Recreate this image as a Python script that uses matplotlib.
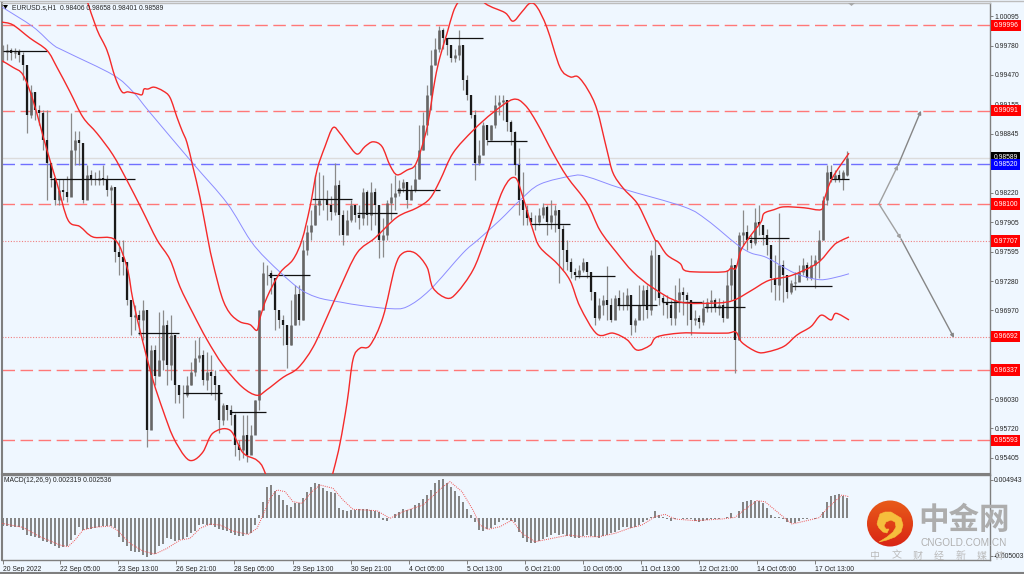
import numpy as np
import matplotlib
matplotlib.use("Agg")
import matplotlib.pyplot as plt
from matplotlib.patches import Circle, Polygon, PathPatch
from matplotlib.path import Path

plt.rcParams['font.family'] = ['Liberation Sans', 'DejaVu Sans']

# ---- candle data (1 unit = 0.0001 of price)
close_pips = [9971,9973,9970,9971,9968,9957,9904,9929,9910,9907,9878,9853,9838,9814,9825,9823,9817,9867,9878,9875,
 9814,9841,9835,9835,9838,9837,9825,9828,9759,9754,9748,9708,9690,9692,9687,9698,9570,9655,9628,9645,
 9682,9639,9671,9618,9607,9607,9618,9632,9647,9650,9623,9632,9628,9618,9581,9597,9591,9586,9554,9549,
 9565,9544,9565,9602,9698,9737,9737,9732,9698,9687,9682,9660,9682,9715,9687,9761,9780,9788,9809,9814,
 9814,9809,9801,9830,9798,9777,9793,9809,9798,9795,9823,9798,9823,9809,9772,9777,9811,9817,9822,9827,
 9833,9814,9825,9837,9867,9894,9926,9957,9975,9995,9986,9979,9965,9968,9979,9942,9926,9904,9853,9862,
 9894,9878,9894,9915,9918,9920,9897,9886,9851,9814,9804,9795,9791,9791,9798,9807,9791,9798,9804,9784,
 9761,9748,9738,9735,9740,9748,9738,9717,9689,9703,9708,9703,9687,9710,9703,9703,9713,9682,9687,9703,
 9719,9698,9756,9756,9710,9706,9703,9689,9708,9717,9713,9708,9687,9689,9685,9700,9706,9708,9700,9703,
 9689,9724,9745,9666,9777,9780,9772,9769,9791,9788,9777,9766,9732,9724,9745,9735,9717,9726,9727,9738,
 9745,9731,9745,9751,9772,9814,9844,9837,9841,9837,9844,9859]
high_pips = [9979,9980,9976,9976,9975,9971,9952,9936,9929,9915,9910,9910,9853,9838,9837,9837,9840,9907,9888,9888,
 9875,9851,9846,9844,9846,9851,9841,9830,9809,9772,9772,9748,9708,9703,9698,9708,9698,9660,9660,9695,
 9698,9687,9692,9671,9618,9618,9628,9642,9666,9669,9655,9653,9650,9634,9618,9599,9597,9597,9588,9560,
 9586,9586,9575,9602,9698,9748,9745,9740,9724,9692,9692,9682,9708,9724,9724,9772,9788,9804,9841,9844,
 9841,9825,9819,9853,9835,9804,9804,9814,9809,9809,9827,9825,9833,9827,9809,9795,9814,9832,9841,9835,
 9837,9833,9830,9851,9894,9908,9936,9973,9986,9999,9997,9986,9979,9975,9995,9979,9947,9926,9910,9878,
 9897,9894,9894,9926,9926,9926,9920,9899,9888,9869,9844,9809,9801,9798,9806,9811,9809,9814,9809,9804,
 9788,9772,9753,9742,9745,9753,9748,9738,9717,9710,9713,9744,9710,9713,9719,9717,9721,9713,9689,9724,
 9724,9724,9761,9772,9756,9713,9713,9708,9724,9732,9722,9717,9708,9698,9692,9708,9710,9719,9710,9710,
 9708,9740,9753,9745,9780,9804,9788,9777,9806,9809,9788,9784,9766,9756,9800,9751,9735,9729,9738,9745,
 9753,9748,9756,9756,9782,9819,9851,9851,9846,9846,9846,9866]
low_pips = [9961,9963,9963,9965,9961,9942,9885,9901,9899,9894,9867,9814,9828,9809,9809,9814,9812,9819,9851,9851,
 9811,9825,9830,9830,9830,9830,9819,9811,9748,9735,9735,9703,9671,9676,9671,9666,9552,9623,9618,9628,
 9634,9618,9623,9599,9599,9583,9605,9618,9628,9642,9618,9613,9607,9602,9567,9575,9581,9575,9543,9538,
 9541,9536,9549,9570,9591,9698,9724,9714,9676,9678,9660,9636,9660,9682,9682,9687,9756,9772,9788,9798,
 9804,9793,9793,9798,9777,9766,9780,9791,9791,9784,9788,9788,9782,9788,9753,9754,9772,9793,9804,9819,
 9823,9806,9819,9823,9837,9867,9883,9910,9957,9971,9975,9968,9961,9961,9963,9931,9920,9901,9835,9851,
 9862,9873,9878,9891,9904,9899,9888,9873,9841,9798,9788,9788,9788,9782,9788,9795,9777,9784,9780,9726,
 9740,9740,9731,9729,9731,9738,9731,9708,9682,9687,9692,9687,9685,9695,9698,9698,9698,9671,9674,9689,
 9687,9689,9692,9708,9703,9692,9689,9682,9682,9695,9692,9682,9671,9682,9678,9682,9695,9695,9695,9692,
 9685,9689,9708,9631,9666,9766,9761,9763,9766,9777,9766,9756,9717,9708,9708,9706,9710,9714,9719,9729,
 9735,9729,9729,9721,9731,9772,9809,9833,9833,9833,9825,9840]
open_last_pips = 9840.6

# ---- band data: chart column, price in 0.0001 units
upper_col = [87,97,107,115,122,128,137,142,144,148,154,163,170,177,182,187,193,200,208,213,222,230,240,250,257,260,267,280,293,302,
 310,317,325,333,340,347,357,365,373,382,390,397,407,415,422,428,435,440,447,453,458,470,485,505,513,522,530,537,547,560,
 570,578,588,597,607,613,623,637,647,655,658,667,680,684,694,724,731,736,741,751,761,764,774,784,804,821,824,832,849]
upper_pips = [10026,9995,9973,9945,9929,9929,9927,9926,9932,9932,9934,9930,9923,9902,9888,9875,9849,9817,9772,9747,9711,9694,9685,9682,9676,9689,9711,9737,9751,9772,
 9807,9846,9871,9891,9885,9875,9863,9871,9876,9871,9851,9841,9846,9851,9871,9896,9942,9966,9991,10013,10024,10042,10023,10013,10004,10014,10023,10019,9997,9955,
 9945,9945,9931,9910,9867,9843,9827,9811,9790,9772,9770,9756,9747,9740,9738,9738,9742,9742,9761,9777,9791,9800,9804,9807,9806,9804,9814,9837,9864]
middle_col = [2,13,30,47,57,70,83,97,113,127,142,157,170,180,193,207,223,242,257,267,283,298,313,327,340,357,375,397,417,430,
 440,453,473,493,513,525,537,553,567,587,600,617,633,653,680,717,734,751,769,791,817,831,837,849]
middle_pips = [10003,10000,9986,9973,9955,9929,9902,9885,9862,9835,9804,9772,9751,9722,9694,9666,9639,9616,9607,9613,9626,9636,9658,9690,9721,9758,9774,9796,9806,9816,
 9835,9864,9888,9907,9921,9915,9896,9864,9839,9811,9782,9758,9738,9721,9706,9705,9708,9718,9729,9734,9747,9763,9769,9775]
lower_col = [2,13,23,33,47,57,68,80,93,115,127,133,143,153,163,173,185,193,203,213,230,243,257,265,280,300,320,333,340,347,
 353,360,370,383,395,403,415,427,433,447,457,473,485,503,515,523,533,540,557,570,580,597,613,627,637,650,657,680,704,727,
 736,742,757,767,784,797,811,821,831,836,849]
lower_pips = [9962,9955,9947,9920,9867,9832,9793,9786,9775,9772,9743,9708,9663,9623,9591,9563,9542,9538,9547,9567,9570,9546,9538,9525,9475,9432,9475,9525,9556,9599,
 9645,9657,9660,9690,9743,9758,9758,9743,9721,9710,9716,9740,9772,9825,9838,9817,9782,9764,9747,9729,9701,9672,9673,9666,9655,9660,9669,9673,9673,9673,
 9674,9663,9653,9653,9659,9671,9680,9692,9687,9694,9687]
ma_col = [2,33,53,67,113,133,150,193,227,250,267,297,317,340,363,390,407,430,463,478,500,520,540,573,587,623,684,707,737,751,767,794,817,831,849]
ma_pips = [10019,9998,9979,9971,9947,9929,9907,9853,9811,9772,9751,9722,9711,9706,9702,9699,9701,9719,9758,9772,9793,9814,9831,9840,9839,9826,9807,9793,9767,9758,9753,9737,9730,9731,9736]

# ---- period stubs
stub_start = [3,50,138,183,230,268,312,357,397,447,487,530,575,617,662,704,747,792,831]
stub_end = [47,135,179,222,266,310,352,397,440,483,527,570,615,657,702,745,789,832,849]
stub_pips = [9972,9837,9673,9609,9589,9735,9815,9800,9825,9986,9877,9789,9734,9703,9706,9701,9774,9723,9837]

# ---- horizontal levels
dashed_levels = [0.99996,0.99091,0.98100,0.96337,0.95593]
dotted_levels = [0.97707,0.96692]
blue_level = 0.98520
bid_level = 0.98589
price_ticks = [1.00095,0.99780,0.99470,0.99155,0.98845,0.98220,0.97905,0.97595,0.97280,0.96970,0.96030,0.95720,0.95405]

# ---- forecast arrows (column, price)
up_arrow_col = [879,898,921]
up_arrow_price = [0.98100,0.9851,0.9909]
down_arrow_col = [879,901,954]
down_arrow_price = [0.98100,0.9773,0.9668]

# ---- MACD (0.0001 units)
macd_hist = [-10.5,-11.4,-11.8,-12.2,-12.7,-16.2,-22.7,-24.0,-24.9,-27.1,-30.2,-31.9,-34.5,-37.1,-39.3,-38.9,-37.1,-29.3,-22.7,-12.7,
 -16.2,-15.3,-14.4,-14.0,-12.7,-10.9,-10.9,-10.9,-14.0,-24.9,-31.5,-37.1,-43.7,-45.0,-45.4,-48.9,-51.1,-48.9,-47.6,-37.1,
 -34.5,-26.2,-28.0,-30.2,-29.3,-28.4,-24.9,-20.5,-17.0,-9.6,-8.7,-9.6,-9.6,-12.7,-15.3,-16.2,-17.0,-20.5,-22.7,-24.0,
 -24.0,-21.4,-19.7,-9.6,3.5,21.0,40.6,42.4,35.4,29.7,23.2,16.6,14.4,18.8,18.8,25.3,34.1,40.6,45.0,44.1,
 38.5,35.4,34.1,31.9,12.2,10.1,9.2,10.1,10.1,10.9,10.9,10.9,10.1,9.2,7.9,-3.1,-3.9,0.0,4.8,7.9,
 10.9,10.1,10.9,16.6,19.7,24.0,29.7,36.3,45.9,49.4,50.3,45.9,40.6,35.4,28.4,21.0,10.9,3.5,-5.2,-16.2,
 -17.0,-15.3,-14.0,-9.6,-5.2,-3.1,-3.1,-3.9,
 -5.2,-18.4,-27.1,-32.3,-33.6,-33.6,-30.2,-28.4,-25.8,-22.7,-20.5,-23.2,-21.9,-24.0,-25.8,-26.2,-26.2,-23.6,-22.7,-24.0,
 -25.8,-26.2,-24.0,-22.7,-20.5,-18.4,-16.2,-12.7,-11.8,-13.5,-12.7,-9.6,-5.2,-3.1,1.3,8.7,3.5,1.3,-2.2,-3.9,
 -2.2,-0.9,-1.3,-1.3,-2.2,-4.4,-5.2,-3.9,-3.1,-2.2,-1.3,-1.3,-0.9,0.4,5.7,0.0,9.2,21.0,22.3,23.2,
 22.3,22.3,18.8,12.2,3.5,1.3,0.4,-2.2,-5.2,-7.4,-6.6,-4.4,-2.2,-1.3,-0.9,-1.3,0.0,7.9,21.0,28.4,
 30.2,31.0,28.4,26.2]
signal_col = [2,23,40,60,68,75,83,93,110,117,130,143,155,167,180,190,200,210,220,233,248,257,263,270,277,285,293,302,312,320,
 333,343,353,377,390,403,423,443,450,462,473,480,488,500,512,522,535,552,569,582,599,615,629,642,655,665,675,695,722,735,
 745,757,765,779,792,805,819,829,842,849]
signal_vals = [-7.4,-12.7,-24.9,-35.8,-38.0,-29.3,-16.2,-12.7,-10.9,-16.2,-33.6,-43.7,-47.6,-40.2,-29.3,-27.1,-14.0,-8.3,-9.6,-17.5,-21.9,-14.0,3.5,25.3,36.3,34.1,21.0,18.8,34.1,42.8,
 38.5,23.2,10.9,9.2,-0.9,7.9,16.6,40.6,47.2,34.1,10.0,-9.6,-15.3,-11.8,-3.1,-20.5,-31.5,-27.1,-22.7,-24.9,-24.9,-20.5,-14.0,-9.6,1.3,4.4,-1.7,-3.9,-1.7,0.4,
 10.9,22.3,21.0,5.7,-8.3,-4.4,0.0,14.4,29.7,27.5]

time_labels = ['20 Sep 2022','22 Sep 05:00','23 Sep 13:00','26 Sep 21:00','28 Sep 05:00','29 Sep 13:00','30 Sep 21:00',
 '4 Oct 05:00','5 Oct 13:00','6 Oct 21:00','10 Oct 05:00','11 Oct 13:00','12 Oct 21:00','14 Oct 05:00','17 Oct 13:00']
time_tick_cols = [3,60,118,176,234,293,351,409,467,525,583,641,699,757,815]
header_text = 'EURUSD.s,H1  0.98406 0.98658 0.98401 0.98589'
macd_text = 'MACD(12,26,9) 0.002319 0.002536'
watermark_cn = '中金网'
watermark_en = 'CNGOLD.COM.CN'
watermark_sub = '中文财经新媒体'

# ---- layout
W, H = 1024, 574
BG = '#EFF7FF'
FRAME = '#7F7F7F'
TXT = '#262626'
FS = 4.9
fig = plt.figure(figsize=(W/100, H/100), dpi=100, facecolor=BG)
def box(x0, y0, x1, y1):
    return [x0/W, 1-y1/H, (x1-x0)/W, (y1-y0)/H]
ax = fig.add_axes(box(2, 3, 990, 474), facecolor=BG)
ax2 = fig.add_axes(box(2, 475, 990, 560), facecolor=BG)

ax.set_xlim(2, 990)
ax.set_ylim(0.95235, 1.00233)
ax2.set_xlim(2, 990)
ax2.set_ylim(-0.00554, 0.00559)

def to_price(seq):
    return np.asarray(seq, dtype=float) / 1e4

def curve(axes, xs, ys, **kw):
    """Draw the read points as one smooth Bezier path through them."""
    xs = np.asarray(xs, float)
    ys = np.asarray(ys, float)
    px = np.column_stack([xs, ys])
    ext = np.vstack([px[0], px, px[-1]])
    verts = [px[0]]
    codes = [Path.MOVETO]
    for i in range(1, len(ext) - 2):
        p0, p1, p2, p3 = ext[i-1], ext[i], ext[i+1], ext[i+2]
        verts += [p1 + (p2 - p0) / 6, p2 - (p3 - p1) / 6, p2]
        codes += [Path.CURVE4] * 3
    axes.add_patch(PathPatch(Path(verts, codes), fill=False, **kw))

closes = to_price(close_pips)
highs = to_price(high_pips)
lows = to_price(low_pips)
opens = np.r_[closes[0], closes[:-1]]
opens[-1] = open_last_pips / 1e4
bar_x = 3 + 4 * np.arange(len(closes))

# levels
for lv in dashed_levels:
    ax.axhline(lv, color='#FF7878', lw=1.0, dashes=(9, 4), zorder=1)
for lv in dotted_levels:
    ax.axhline(lv, color='#F08080', lw=0.8, dashes=(1, 1.5), zorder=1)
ax.axhline(blue_level, color='#7070FF', lw=1.0, dashes=(9, 4), zorder=1)
ax.axhline(bid_level, color='#DCDCDC', lw=1.0, zorder=1)

# candles
ax.vlines(bar_x, lows, highs, color='#8A8A8A', lw=0.9, zorder=2)
down = closes < opens
ax.vlines(bar_x[~down], opens[~down], closes[~down], color='#666666', lw=1.9, zorder=3)
ax.vlines(bar_x[down], opens[down], closes[down], color='#1A1A1A', lw=1.6, zorder=3)

# stubs
ax.hlines(to_price(stub_pips), stub_start, stub_end, color='#111111', lw=0.9, zorder=4)

# bands
curve(ax, ma_col, to_price(ma_pips), edgecolor='#8C8CFF', lw=0.7, zorder=5)
for c, p in ((upper_col, upper_pips), (middle_col, middle_pips), (lower_col, lower_pips)):
    curve(ax, c, to_price(p), edgecolor='#F52A2A', lw=1.0, zorder=6)

# arrows
def arrow_path(cols, prices, first_col):
    ax.annotate('', xy=(cols[1], prices[1]), xytext=(cols[0], prices[0]),
                arrowprops=dict(arrowstyle='-|>', color=first_col, lw=1.0, mutation_scale=5, shrinkA=0, shrinkB=0), zorder=7)
    ax.annotate('', xy=(cols[2], prices[2]), xytext=(cols[1], prices[1]),
                arrowprops=dict(arrowstyle='-|>', color='#868686', lw=1.0, mutation_scale=5, shrinkA=0, shrinkB=0), zorder=7)
arrow_path(up_arrow_col, up_arrow_price, '#A0A0A0')
arrow_path(down_arrow_col, down_arrow_price, '#A0A0A0')

# price axis
ax.yaxis.tick_right()
ax.set_yticks(price_ticks)
ax.set_yticklabels(['%.5f' % v for v in price_ticks])
ax.tick_params(axis='y', length=2, width=0.7, color=FRAME, labelsize=FS, labelcolor=TXT, pad=1.2)
ax.set_xticks([])

# price tags
trans = ax.get_yaxis_transform()
def tag(v, bg):
    ax.text(1.0035, v, '%.5f' % v, transform=trans, ha='left', va='center', fontsize=FS, color='white',
            bbox=dict(boxstyle='square,pad=0.32', fc=bg, ec='none'), zorder=9, clip_on=False)
for lv in dashed_levels + dotted_levels:
    tag(lv, '#FF0000')
tag(bid_level, '#000000')
tag(blue_level, '#0000FF')

# MACD
mx = 3 + 4 * np.arange(len(macd_hist))
ax2.bar(mx, np.asarray(macd_hist) * 1e-4, width=2.7, color='#858585', linewidth=0, zorder=2)
ax2.plot(signal_col, np.asarray(signal_vals) * 1e-4, color='#F05050', lw=0.7, dashes=(1, 1.2), zorder=3)
ax2.yaxis.tick_right()
ax2.set_yticks([0.004943, -0.005003])
ax2.set_yticklabels(['0.004943', '-0.005003'])
ax2.tick_params(axis='y', length=2, width=0.7, color=FRAME, labelsize=FS, labelcolor=TXT, pad=0.6)
ax2.set_xticks(time_tick_cols)
ax2.set_xticklabels(time_labels, ha='left')
ax2.tick_params(axis='x', length=3, width=0.7, color=FRAME, labelsize=FS, labelcolor=TXT, pad=1.5)

for a in (ax, ax2):
    for s in a.spines.values():
        s.set_color(FRAME)
        s.set_linewidth(1.0)
    a.spines['left'].set_linewidth(1.5)
ax.spines['bottom'].set_linewidth(1.5)
ax.spines['top'].set_color('#BDBDBD')

# overlay in image pixels for the frame, captions and watermark
ov = fig.add_axes([0, 0, 1, 1], facecolor='none', zorder=10)
ov.set_xlim(0, W)
ov.set_ylim(H, 0)
ov.axis('off')
ov.text(12, 7.5, header_text, fontsize=FS, color=TXT, va='center', ha='left')
ov.add_patch(Polygon([[3, 5], [8, 5], [5.5, 9]], closed=True, fc='black', ec='none'))
ov.add_patch(Polygon([[848, 3], [855, 3], [851.5, 6]], closed=True, fc='#A8A8A8', ec='none'))
ov.text(4, 481, macd_text, fontsize=FS, color=TXT, va='center', ha='left')
ov.plot([0, W], [573, 573], color=FRAME, lw=1.5)
ov.plot([0, W], [0.5, 0.5], color='#BDBDBD', lw=1.0)

# logo: red-orange disc with a yellow cloud swirl
grad = np.linspace(0, 1, 64)[:, None, None] * np.array([[[-0.06, -0.22, -0.02]]]) + np.array([[[0.91, 0.36, 0.10]]])
disc = Circle((890, 523.5), 23, transform=ov.transData, fc='none', ec='none')
ov.add_patch(disc)
im = ov.imshow(grad, extent=(867, 913, 547, 500), aspect='auto', zorder=11)
im.set_clip_path(disc)
ov.set_xlim(0, W)
ov.set_ylim(H, 0)
swirl_x = [878,880,885,891,896,901,903,901,895,887,879,887,893,896,895,891,886,884,886,889,887,883,879,877]
swirl_y = [520,514,512,512,515,518,525,532,537,540,542,537,532,527,522,520,522,526,529,529,533,532,528,524]
pts = np.column_stack([swirl_x, swirl_y])
ov.add_patch(Polygon(pts, closed=True, fc='#F6BE3C', ec='#F6BE3C', lw=0.4, zorder=12))

ov.text(964, 520, watermark_cn, family=['Noto Sans CJK SC', 'DejaVu Sans'], fontsize=22, fontweight='bold',
        color='#ADADAD', ha='center', va='center', zorder=12)
ov.text(964, 543, watermark_en, fontsize=7.2, color='#B0B0B0', ha='center', va='center', zorder=12)
for ch, cx in zip(watermark_sub, [875, 897, 918, 939, 961, 982, 1000]):
    ov.text(cx, 555.5, ch, family=['Noto Sans CJK SC', 'DejaVu Sans'], fontsize=7.2, color='#BBBBBB', ha='center', va='center', zorder=12)

fig.savefig('out.png', dpi=100, facecolor=BG)
